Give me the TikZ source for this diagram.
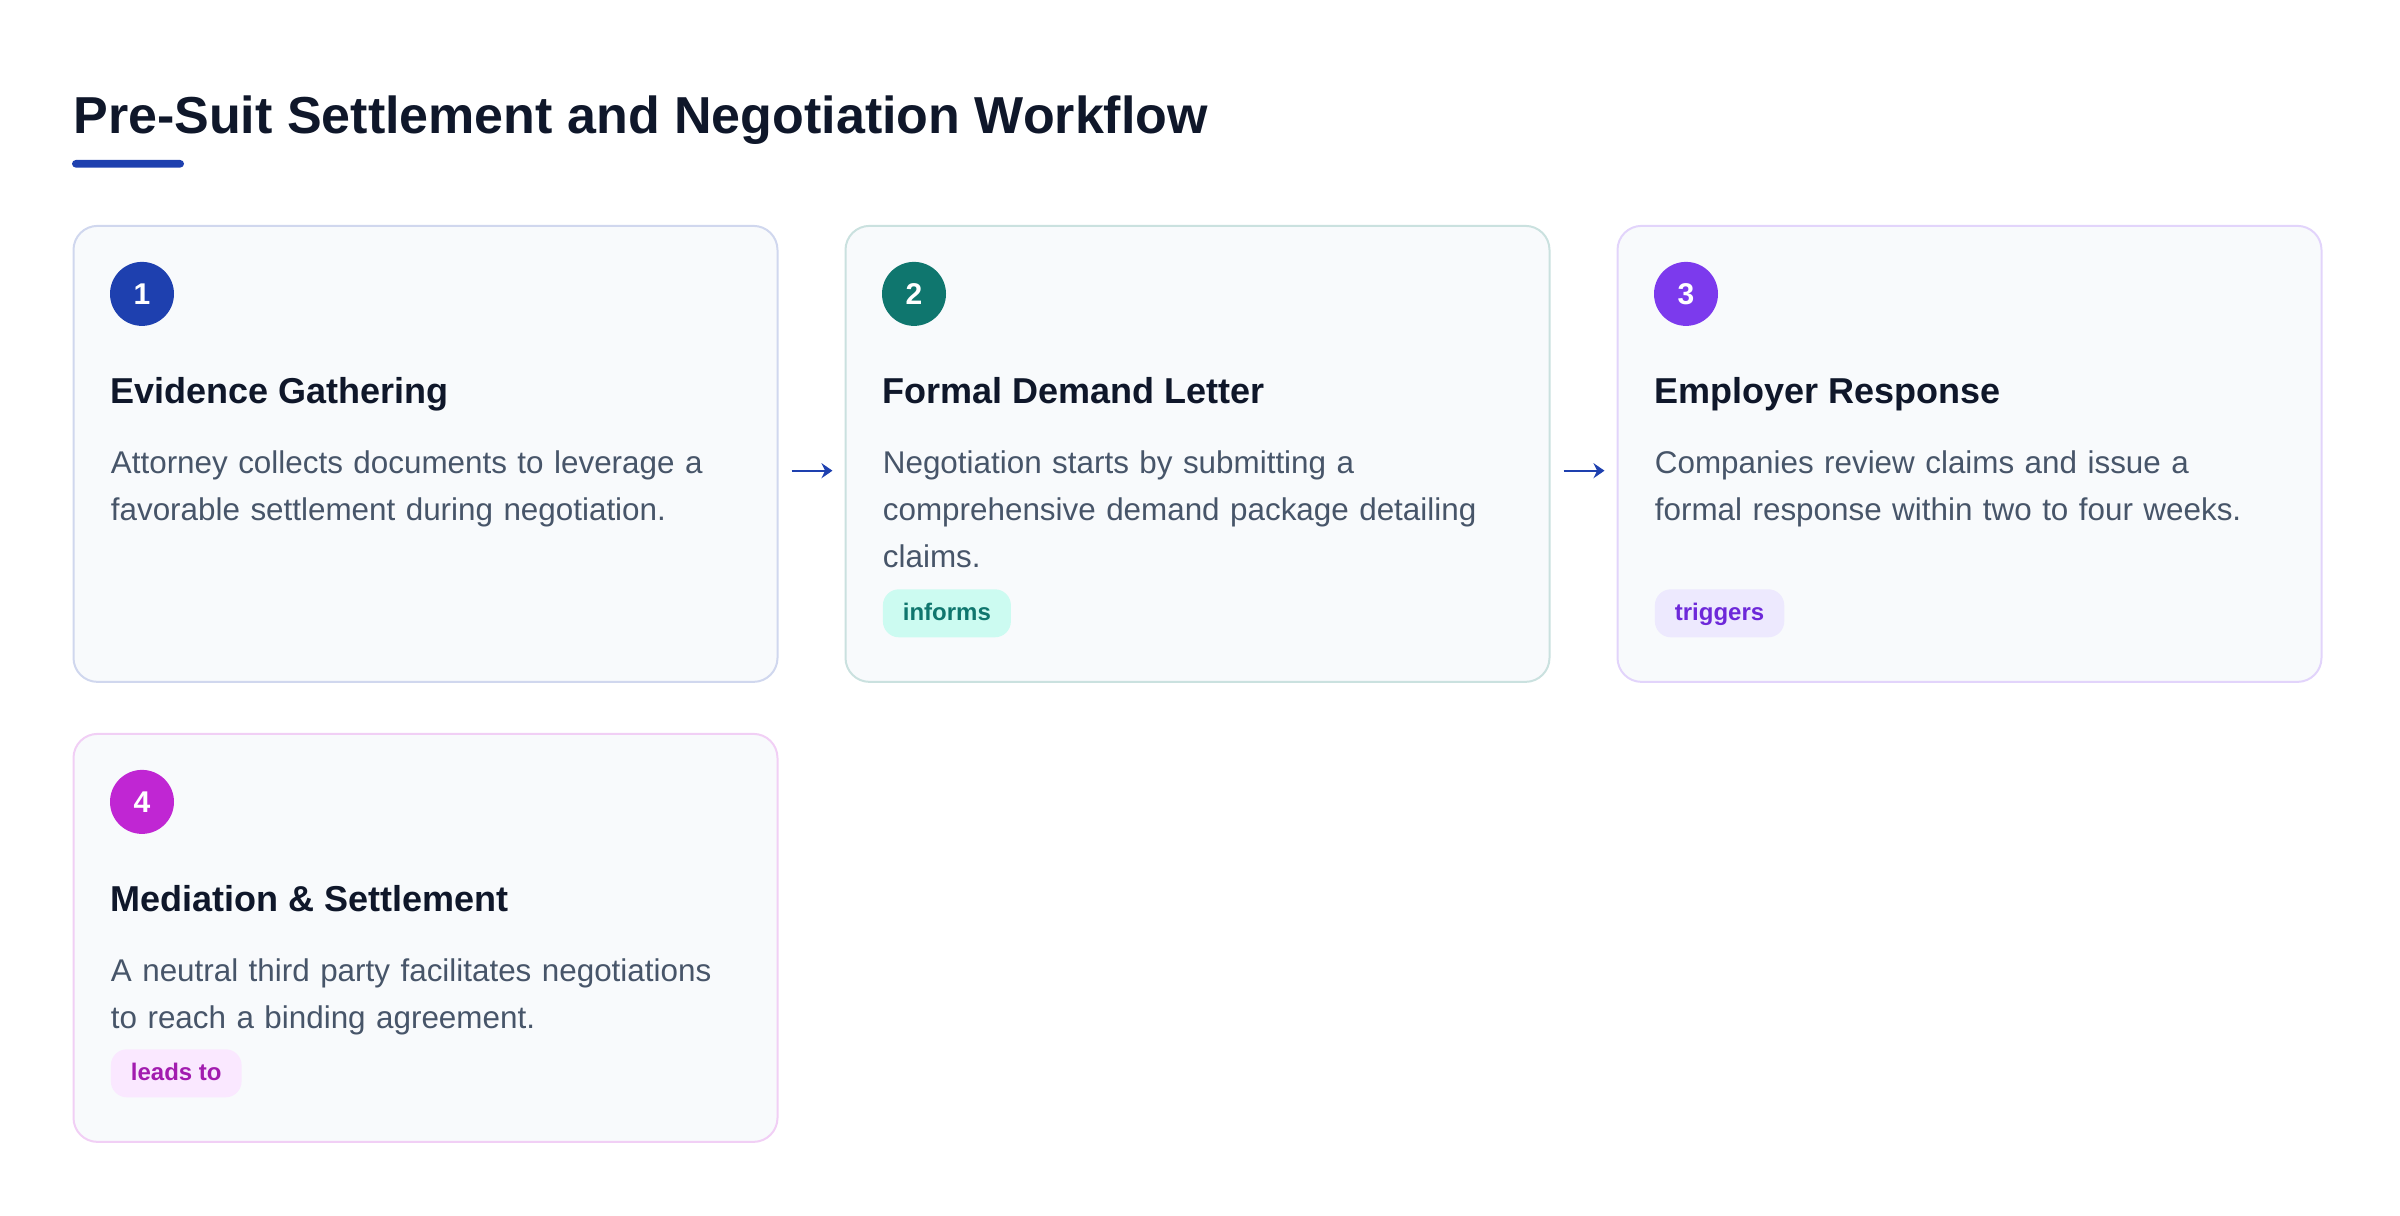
\documentclass[tikz,border=0pt]{standalone}
\usepackage{fontspec}
\setmainfont{Liberation Sans}
\usetikzlibrary{positioning,arrows.meta}

\begin{document}
\begin{tikzpicture}[x=1pt, y=1pt,
    card/.style={draw, fill=card-bg, line width=1pt, rounded corners=12pt, minimum width=352pt, minimum height=228pt, inner sep=0pt},
    badge/.style={circle, minimum size=32pt, inner sep=0pt, text=white, font=\fontsize{15pt}{18pt}\selectfont\bfseries},
    head/.style={anchor=base west, inner sep=0pt, text=my-ink, font=\fontsize{18pt}{22pt}\selectfont\bfseries},
    body/.style={anchor=base west, inner sep=0pt, text=my-slate, text width=316pt, align=left, font=\fontsize{15.7pt}{23.5pt}\selectfont},
    tag/.style={anchor=south west, rounded corners=8pt, inner xsep=10pt, inner ysep=0pt, minimum height=24pt, text height=8pt, text depth=1pt, font=\fontsize{12pt}{14pt}\selectfont\bfseries},
    flow/.style={draw=my-blue, line width=1pt, -{Stealth[length=5.5pt, width=7.5pt, inset=1.8pt]}, shorten <=6.5pt, shorten >=6pt}]
    \definecolor{my-ink}{HTML}{0F172A}
    \definecolor{my-slate}{HTML}{475569}
    \definecolor{card-bg}{HTML}{F8FAFC}
    \definecolor{my-blue}{HTML}{1E40AF}
    \definecolor{my-teal}{HTML}{0F766E}
    \definecolor{my-violet}{HTML}{7C3AED}
    \definecolor{my-pink}{HTML}{C026D3}
    \definecolor{mint-bg}{HTML}{CCFBF1}
    \definecolor{violet-bg}{HTML}{EDE9FE}
    \definecolor{violet-fg}{HTML}{6D28D9}
    \definecolor{pink-bg}{HTML}{FAE8FF}
    \definecolor{pink-fg}{HTML}{A21CAF}
    \useasboundingbox (0,0) rectangle (1200,608);
    \node[anchor=base west, inner sep=0pt, text=my-ink, font=\fontsize{26pt}{30pt}\selectfont\bfseries] (title) at (36.5,541) {Pre-Suit Settlement and Negotiation Workflow};
    \fill[my-blue, rounded corners=1.9pt] (36,524.2) rectangle (92,528);
    % step cards
    \node[card, draw=my-blue!21] (card1) at (212.75,381.05) {};
    \node[card, draw=my-teal!22, right=33pt of card1] (card2) {};
    \node[card, draw=my-violet!22, right=33pt of card2] (card3) {};
    \node[card, draw=my-pink!22, minimum height=204pt, below=25pt of card1] (card4) {};
    \node[badge, fill=my-blue] (num1) at ([shift={(34.75pt,-34.5pt)}]card1.north west) {1};
    \node[badge, fill=my-teal] (num2) at ([shift={(34.75pt,-34.5pt)}]card2.north west) {2};
    \node[badge, fill=my-violet] (num3) at ([shift={(34.75pt,-34.5pt)}]card3.north west) {3};
    \node[badge, fill=my-pink] (num4) at ([shift={(34.75pt,-34.5pt)}]card4.north west) {4};
    \node[head] (head1) at ([shift={(19pt,-89.5pt)}]card1.north west) {Evidence Gathering};
    \node[head] (head2) at ([shift={(19pt,-89.5pt)}]card2.north west) {Formal Demand Letter};
    \node[head] (head3) at ([shift={(19pt,-89.5pt)}]card3.north west) {Employer Response};
    \node[head] (head4) at ([shift={(19pt,-89.5pt)}]card4.north west) {Mediation \& Settlement};
    \node[body] (text1) at ([shift={(19pt,-124.5pt)}]card1.north west) {Attorney collects documents to leverage a\\favorable settlement during negotiation.};
    \node[body] (text2) at ([shift={(19pt,-124.5pt)}]card2.north west) {Negotiation starts by submitting a\\comprehensive demand package detailing\\claims.};
    \node[body] (text3) at ([shift={(19pt,-124.5pt)}]card3.north west) {Companies review claims and issue a\\formal response within two to four weeks.};
    \node[body] (text4) at ([shift={(19pt,-124.5pt)}]card4.north west) {A neutral third party facilitates negotiations\\to reach a binding agreement.};
    % tags
    \node[tag, fill=mint-bg, text=my-teal] (tag2) at ([shift={(19pt,22.6pt)}]card2.south west) {informs};
    \node[tag, fill=violet-bg, text=violet-fg] (tag3) at ([shift={(19pt,22.6pt)}]card3.south west) {triggers};
    \node[tag, fill=pink-bg, text=pink-fg] (tag4) at ([shift={(19pt,22.6pt)}]card4.south west) {leads to};
    \draw[flow] ([yshift=-8.4pt]card1.east) -- ([yshift=-8.4pt]card2.west);
    \draw[flow] ([yshift=-8.4pt]card2.east) -- ([yshift=-8.4pt]card3.west);
  \end{tikzpicture}
\end{document}
